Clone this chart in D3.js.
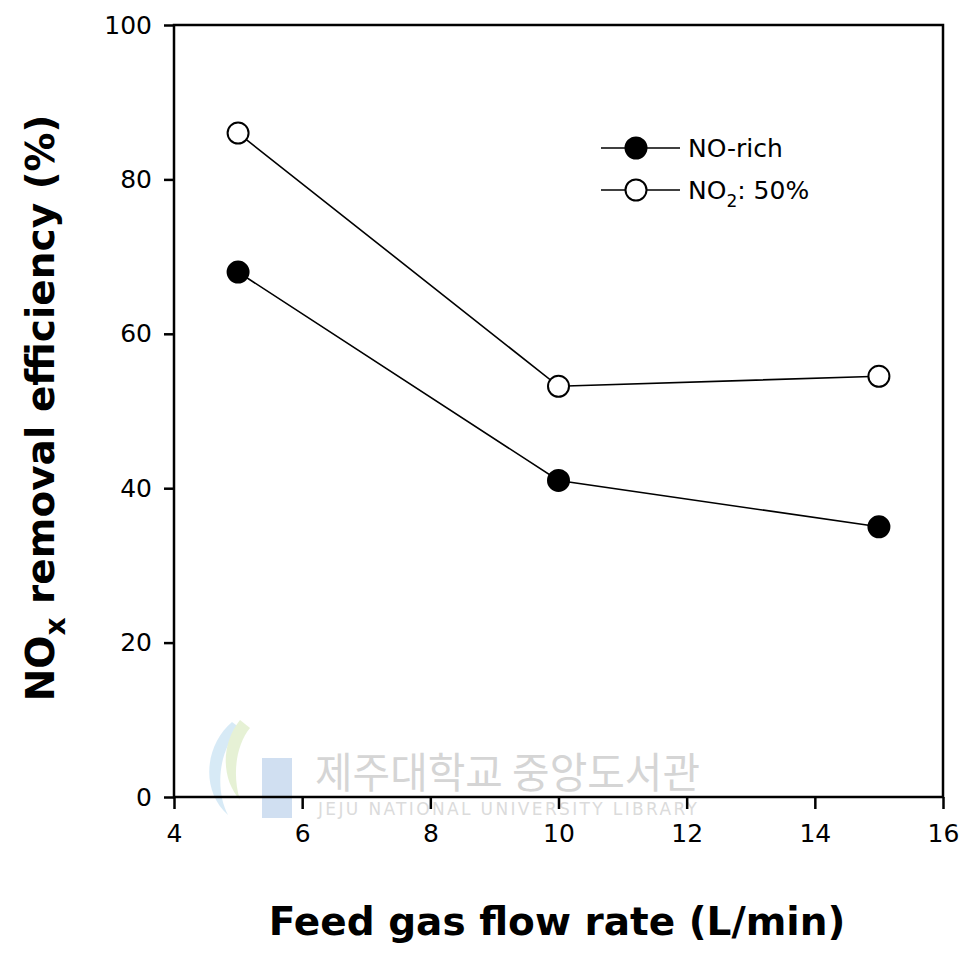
<!DOCTYPE html>
<html>
<head>
<meta charset="utf-8">
<script src="https://cdn.jsdelivr.net/npm/d3@7"></script>
<style>
  body { margin: 0; background: #fff; }
  text { font-family: "DejaVu Sans", Verdana, sans-serif; }
</style>
</head>
<body>
<div id="chart"></div>
<script>
const width = 966;
const height = 967;

// data
const flowRates = [5, 10, 15];
const noRich = [68, 41, 35];
const no2Half = [86, 53.2, 54.5];
const xTicks = [4, 6, 8, 10, 12, 14, 16];
const yTicks = [0, 20, 40, 60, 80, 100];

const margin = {left: 174, right: 23, top: 25, bottom: 170};

var svg = d3.select("#chart").append("svg")
  .attr("width", width)
  .attr("height", height);

var x = d3.scaleLinear().domain([4, 16]).range([margin.left, width - margin.right]);
var y = d3.scaleLinear().domain([0, 100]).range([height - margin.bottom, margin.top]);

// watermark
var wm = svg.append("g").attr("opacity", 0.35);
wm.append("path")
  .attr("d", "M232,722 C205,745 200,790 228,815 C215,790 218,750 240,728 Z")
  .style("fill", "#8fc5e8");
wm.append("path")
  .attr("d", "M240,720 C220,745 222,780 240,800 C232,775 236,745 250,728 Z")
  .style("fill", "#b8d88a");
wm.append("rect").attr("x", 262).attr("y", 758).attr("width", 30).attr("height", 60).style("fill", "#7aa6d8");
wm.append("text").attr("x", 315).attr("y", 788)
  .attr("textLength", 385).attr("lengthAdjust", "spacingAndGlyphs")
  .style("font-family", "'Noto Sans CJK KR'")
  .style("font-size", "42px").style("fill", "#888")
  .text("제주대학교 중앙도서관");
wm.append("text").attr("x", 318).attr("y", 815)
  .attr("textLength", 379).attr("lengthAdjust", "spacing")
  .style("font-size", "17px").style("fill", "#999")
  .text("JEJU NATIONAL UNIVERSITY  LIBRARY");

// frame
svg.append("rect")
  .attr("x", x(4)).attr("y", y(100))
  .attr("width", x(16) - x(4)).attr("height", y(0) - y(100))
  .style("fill", "none").style("stroke", "#000").style("stroke-width", 2.5);

var xAxis = svg.append("g")
  .attr("transform", "translate(0," + y(0) + ")")
  .call(d3.axisBottom(x).tickValues(xTicks).tickSize(12).tickPadding(15));
var yAxis = svg.append("g")
  .attr("transform", "translate(" + x(4) + ",0)")
  .call(d3.axisLeft(y).tickValues(yTicks).tickSize(10).tickPadding(12));

[xAxis, yAxis].forEach(function (g) {
  g.select(".domain").remove();
  g.selectAll("line").style("stroke", "#000").style("stroke-width", 2.5);
  g.selectAll("text").style("font-size", "25px").style("fill", "#000")
    .style("font-family", "'DejaVu Sans', Verdana, sans-serif");
});

// series
var line = d3.line()
  .x(function (d, i) { return x(flowRates[i]); })
  .y(function (d) { return y(d); });

var series = [
  {name: "NO-rich", values: noRich, fill: "#000"},
  {name: "NO2", values: no2Half, fill: "#fff"}
];

series.forEach(function (s) {
  svg.append("path").datum(s.values)
    .attr("d", line)
    .style("fill", "none").style("stroke", "#000").style("stroke-width", 1.6);
  svg.selectAll(null).data(s.values).enter().append("circle")
    .attr("cx", function (d, i) { return x(flowRates[i]); })
    .attr("cy", function (d) { return y(d); })
    .attr("r", 10.5)
    .style("fill", s.fill).style("stroke", "#000").style("stroke-width", 2);
});

// legend
var legend = svg.append("g");
series.forEach(function (s, i) {
  var ly = 148 + i * 42;
  legend.append("line").attr("x1", 601).attr("x2", 680).attr("y1", ly).attr("y2", ly)
    .style("stroke", "#000").style("stroke-width", 1.6);
  legend.append("circle").attr("cx", 636).attr("cy", ly).attr("r", 10.5)
    .style("fill", s.fill).style("stroke", "#000").style("stroke-width", 2);
});
legend.append("text").attr("x", 688).attr("y", 157)
  .style("font-size", "25px").text("NO-rich");
var t2 = legend.append("text").attr("x", 688).attr("y", 199).style("font-size", "25px");
t2.append("tspan").text("NO");
t2.append("tspan").attr("dy", 8).style("font-size", "17px").text("2");
t2.append("tspan").attr("dy", -8).text(": 50%");

// axis titles
svg.append("text")
  .attr("x", 557).attr("y", 935)
  .attr("text-anchor", "middle")
  .style("font-size", "39px").style("font-weight", "bold")
  .text("Feed gas flow rate (L/min)");

var yt = svg.append("text")
  .attr("transform", "translate(54," + 408 + ") rotate(-90)")
  .attr("text-anchor", "middle")
  .style("font-size", "39px").style("font-weight", "bold");
yt.append("tspan").text("NO");
yt.append("tspan").attr("dy", 11).style("font-size", "28px").text("x");
yt.append("tspan").attr("dy", -11).text(" removal efficiency (%)");
</script>
</body>
</html>
